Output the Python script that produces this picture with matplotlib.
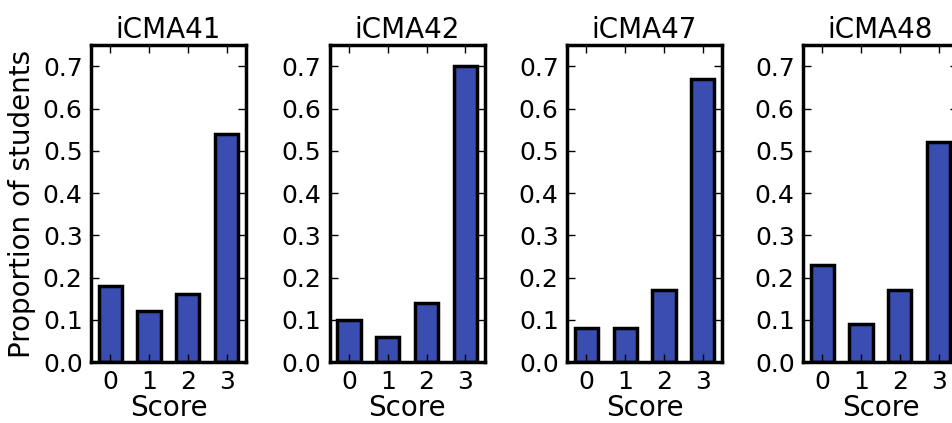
import numpy as np
import matplotlib.pyplot as plt

titles = ["iCMA41", "iCMA42", "iCMA47", "iCMA48"]
scores = [0, 1, 2, 3]
proportions = [
    [0.18, 0.12, 0.16, 0.54],
    [0.10, 0.06, 0.14, 0.70],
    [0.08, 0.08, 0.17, 0.67],
    [0.23, 0.09, 0.17, 0.52],
]
yticks = [0.0, 0.1, 0.2, 0.3, 0.4, 0.5, 0.6, 0.7]

fig = plt.figure(figsize=(9.53, 4.23), dpi=100)
lefts = [0.0955, 0.346, 0.595, 0.8426]

for i, (title, vals) in enumerate(zip(titles, proportions)):
    ax = fig.add_axes([lefts[i], 0.144, 0.1626, 0.749])
    ax.bar(scores, vals, width=0.6, color="#3a4db0", edgecolor="black", linewidth=2.5)
    ax.set_xlim(-0.5, 3.5)
    ax.set_ylim(0, 0.75)
    ax.set_xticks(scores)
    ax.set_yticks(yticks)
    ax.set_yticklabels([f"{t:.1f}" for t in yticks])
    ax.tick_params(direction="in", top=True, right=True, length=6, width=1,
                   labelsize=18, pad=6)
    for s in ax.spines.values():
        s.set_linewidth(2.5)
    ax.set_title(title, fontsize=20, pad=5)
    ax.set_xlabel("Score", fontsize=20, labelpad=0)
    if i == 0:
        ax.set_ylabel("Proportion of students", fontsize=20, labelpad=5)

fig.savefig("out.png", dpi=100)
